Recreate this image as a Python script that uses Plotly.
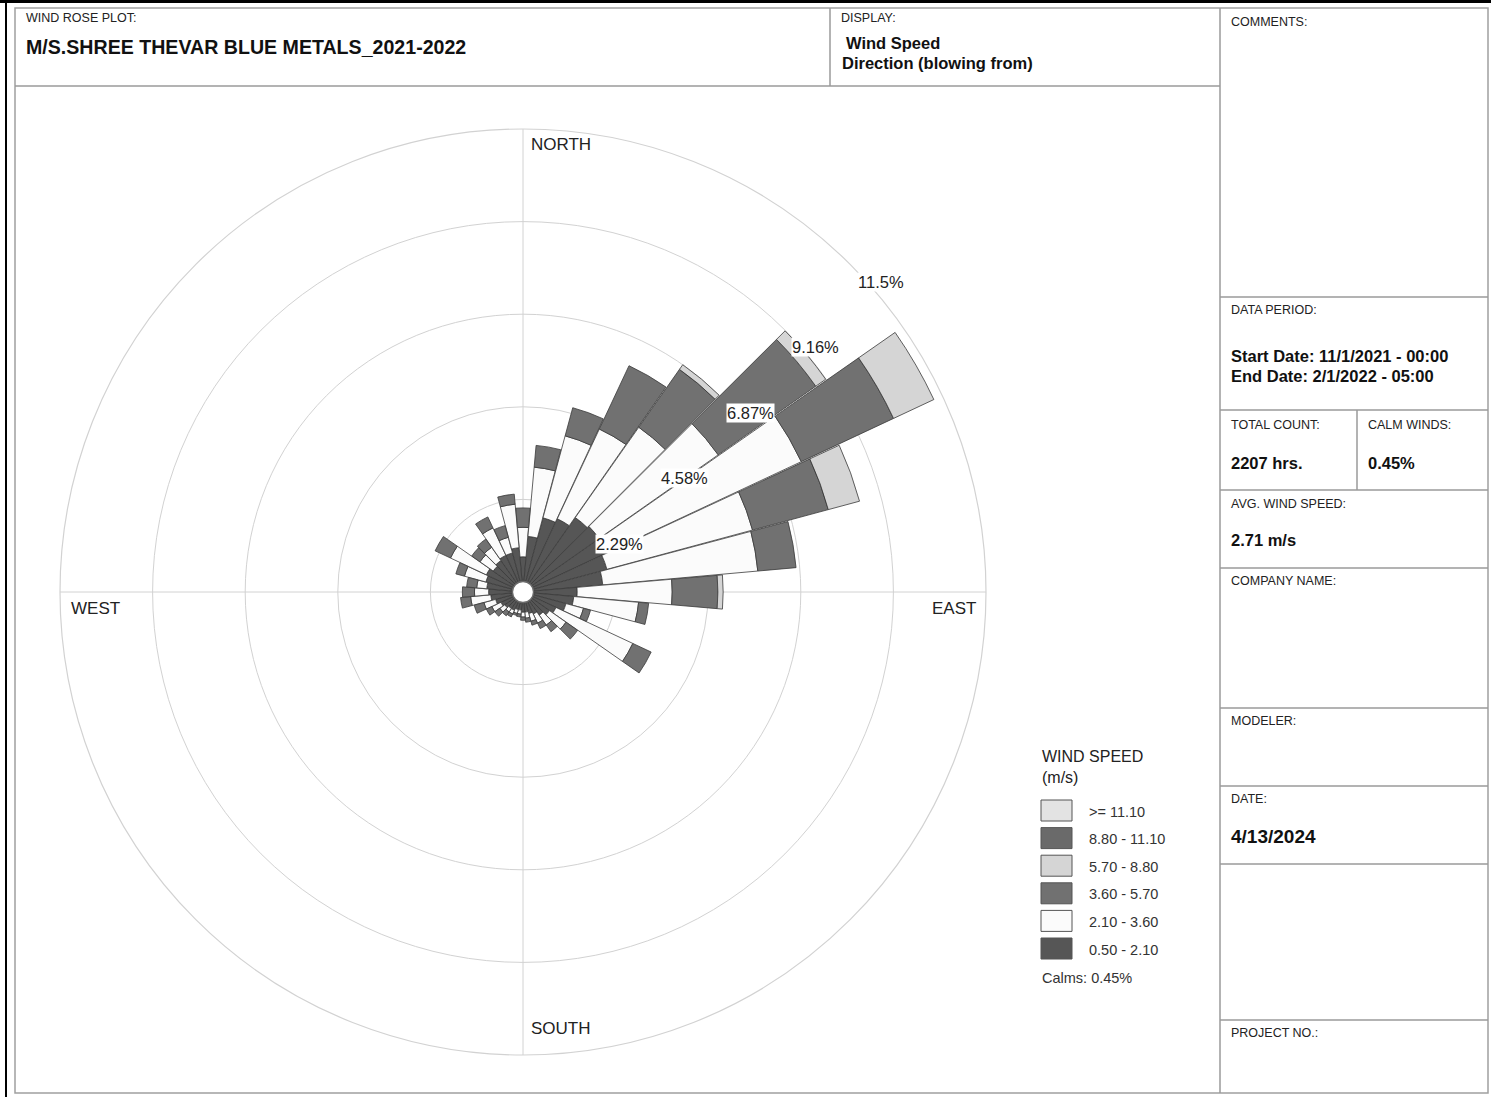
import math
import plotly.graph_objects as go

W, H = 1491, 1097
FONT = "Liberation Sans"

# ---------------- data ----------------
directions = list(range(0, 360, 10))  # direction blowing from, degrees

speed_bins = ["0.50 - 2.10", "2.10 - 3.60", "3.60 - 5.70", "5.70 - 8.80", "8.80 - 11.10", ">= 11.10"]
bin_colors = ["#565656", "#fbfbfb", "#717171", "#d5d5d5", "#6a6a6a", "#e3e3e3"]

# frequency (%) of each speed class per direction
freq_050_210 = [0.87, 1.38, 1.90, 2.00, 2.25, 2.30, 2.28, 2.15, 1.98, 1.34, 1.26, 1.10,
                0.90, 0.80, 0.70, 0.60, 0.55, 0.50, 0.50, 0.45, 0.45, 0.50, 0.50, 0.55,
                0.60, 0.70, 0.80, 0.85, 0.90, 0.95, 1.00, 0.90, 0.95, 1.00, 1.00, 1.10]
freq_210_360 = [0.73, 1.72, 2.10, 2.45, 2.73, 3.60, 5.32, 3.73, 3.85, 2.35, 1.61, 0.45,
                2.10, 0.50, 0.30, 0.25, 0.20, 0.15, 0.12, 0.10, 0.10, 0.10, 0.10, 0.15,
                0.25, 0.30, 0.50, 0.35, 0.25, 0.55, 0.98, 0.40, 0.40, 0.75, 0.40, 1.08]
freq_360_570 = [0.48, 0.54, 0.72, 1.73, 1.75, 2.95, 2.52, 1.94, 0.95, 1.13, 0.25, 0.18,
                0.50, 0.35, 0.20, 0.15, 0.10, 0.10, 0.08, 0.07, 0.05, 0.08, 0.12, 0.15,
                0.15, 0.25, 0.25, 0.30, 0.25, 0.22, 0.42, 0.25, 0.25, 0.30, 0.30, 0.25]
freq_570_880 = [0.00, 0.00, 0.00, 0.00, 0.14, 0.30, 1.10, 0.80, 0.00, 0.13, 0.00, 0.00,
                0.00, 0.00, 0.00, 0.00, 0.00, 0.00, 0.00, 0.00, 0.00, 0.00, 0.00, 0.00,
                0.00, 0.00, 0.00, 0.00, 0.00, 0.00, 0.00, 0.00, 0.00, 0.00, 0.00, 0.00]
freq_880_1110 = [0.00, 0.00, 0.00, 0.00, 0.00, 0.00, 0.00, 0.00, 0.00, 0.00, 0.00, 0.00,
                 0.00, 0.00, 0.00, 0.00, 0.00, 0.00, 0.00, 0.00, 0.00, 0.00, 0.00, 0.00,
                 0.00, 0.00, 0.00, 0.00, 0.00, 0.00, 0.00, 0.00, 0.00, 0.00, 0.00, 0.00]
freq_ge_1110 = [0.00, 0.00, 0.00, 0.00, 0.00, 0.00, 0.00, 0.00, 0.00, 0.00, 0.00, 0.00,
                0.00, 0.00, 0.00, 0.00, 0.00, 0.00, 0.00, 0.00, 0.00, 0.00, 0.00, 0.00,
                0.00, 0.00, 0.00, 0.00, 0.00, 0.00, 0.00, 0.00, 0.00, 0.00, 0.00, 0.00]

speed_series = [freq_050_210, freq_210_360, freq_360_570, freq_570_880, freq_880_1110, freq_ge_1110]

ring_values = [2.29, 4.58, 6.87, 9.16, 11.45]
ring_labels = ["2.29%", "4.58%", "6.87%", "9.16%", "11.5%"]
calm_pct = 0.45

title_text = "M/S.SHREE THEVAR BLUE METALS_2021-2022"
start_date = "Start Date: 11/1/2021 - 00:00"
end_date = "End Date: 2/1/2022 - 05:00"
total_count = "2207 hrs."
avg_speed = "2.71 m/s"
plot_date = "4/13/2024"

# ---------------- geometry helpers ----------------
CX, CY, RAD = 523, 592, 463       # rose centre and outer radius (px)
R_MAX = ring_values[-1]


def px(x):
    return x / W


def py(y):
    return 1 - y / H


def polar_to_px(r, bearing):
    d = r / R_MAX * RAD
    a = math.radians(bearing)
    return CX + d * math.sin(a), CY - d * math.cos(a)


fig = go.Figure()

for name, color, vals in zip(speed_bins, bin_colors, speed_series):
    fig.add_trace(go.Barpolar(
        r=[v if v > 0 else None for v in vals],
        theta=directions,
        width=9.8,
        name=name,
        marker=dict(color=color, line=dict(color="#3a3a3a", width=0.8)),
        showlegend=False,
        hoverinfo="skip",
    ))

# calm circle in the centre
fig.add_trace(go.Scatterpolar(
    r=[0], theta=[0], mode="markers",
    marker=dict(size=21, color="white", line=dict(color="#6a6a6a", width=1.3)),
    showlegend=False, hoverinfo="skip",
))

fig.update_layout(
    width=W, height=H,
    margin=dict(l=0, r=0, t=0, b=0),
    paper_bgcolor="white",
    plot_bgcolor="white",
    font=dict(family=FONT, color="#111"),
    polar=dict(
        domain=dict(x=[px(CX - RAD), px(CX + RAD)], y=[py(CY + RAD), py(CY - RAD)]),
        bgcolor="white",
        bargap=0,
        barmode="stack",
        radialaxis=dict(range=[0, R_MAX], tickvals=ring_values, showticklabels=False,
                        ticks="", showline=False, gridcolor="#d2d2d2", gridwidth=1.2),
        angularaxis=dict(rotation=90, direction="clockwise", tickmode="array",
                         tickvals=[0, 90, 180, 270], showticklabels=False, ticks="",
                         showline=True, linecolor="#d2d2d2", linewidth=1.2,
                         gridcolor="#d2d2d2", gridwidth=1.2),
    ),
)

shapes = []
annotations = []


def line(x0, y0, x1, y1, color="#9a9a9a", width=1.5):
    shapes.append(dict(type="line", xref="paper", yref="paper",
                       x0=px(x0), y0=py(y0), x1=px(x1), y1=py(y1),
                       line=dict(color=color, width=width)))


def text(x, y, s, size, bold=False, anchor="left", color="#111", bg=None):
    annotations.append(dict(
        xref="paper", yref="paper", x=px(x), y=py(y),
        text=f"<b>{s}</b>" if bold else s, showarrow=False,
        xanchor=anchor, yanchor="middle",
        font=dict(family=FONT, size=size, color=color),
        bgcolor=bg, borderpad=0,
    ))


# page frame
line(0, 1.5, W, 1.5, color="#000", width=3)
line(6, 0, 6, H, color="#000", width=2)
shapes.append(dict(type="rect", xref="paper", yref="paper",
                   x0=px(15), y0=py(8), x1=px(1488), y1=py(1093),
                   line=dict(color="#a0a0a0", width=1.5)))

# header boxes
line(15, 86, 1220, 86)
line(830, 8, 830, 86)
line(1220, 8, 1220, 1093)

# right-hand information panel
for yy in [297, 410, 490, 568, 708, 786, 864, 1020]:
    line(1220, yy, 1488, yy)
line(1357, 410, 1357, 490)

small = 12.5
text(25, 18, "WIND ROSE PLOT:", small, color="#222")
text(25, 47, title_text, 19.6, bold=True)
text(840, 18, "DISPLAY:", small, color="#222")
text(845, 43, "Wind Speed", 16.5, bold=True)
text(841, 63, "Direction (blowing from)", 16.5, bold=True)

text(1230, 22, "COMMENTS:", small, color="#222")
text(1230, 310, "DATA PERIOD:", small, color="#222")
text(1230, 356, start_date, 16.5, bold=True)
text(1230, 376, end_date, 16.5, bold=True)
text(1230, 425, "TOTAL COUNT:", small, color="#222")
text(1367, 425, "CALM WINDS:", small, color="#222")
text(1230, 463, total_count, 16.5, bold=True)
text(1367, 463, f"{calm_pct:.2f}%", 16.5, bold=True)
text(1230, 504, "AVG. WIND SPEED:", small, color="#222")
text(1230, 540, avg_speed, 16.5, bold=True)
text(1230, 581, "COMPANY NAME:", small, color="#222")
text(1230, 721, "MODELER:", small, color="#222")
text(1230, 799, "DATE:", small, color="#222")
text(1230, 836, plot_date, 19, bold=True)
text(1230, 1033, "PROJECT NO.:", small, color="#222")

# compass labels
text(561, 145, "NORTH", 17, anchor="center", color="#222")
text(561, 1028, "SOUTH", 17, anchor="center", color="#222")
text(95, 608, "WEST", 17, anchor="center", color="#222")
text(954, 608, "EAST", 17, anchor="center", color="#222")

# ring labels along the 45 degree bearing
for v, lab in zip(ring_values, ring_labels):
    x, y = polar_to_px(v, 45)
    text(x + 31, y + 17, lab, 16.5, anchor="center", color="#222", bg="white")

# legend
text(1041, 756, "WIND SPEED", 16, color="#222")
text(1041, 777, "(m/s)", 16, color="#222")
sw_x0, sw_x1, sw_top, sw_h, sw_step = 1041, 1072, 800, 21, 27.6
for i, (name, color) in enumerate(zip(speed_bins[::-1], bin_colors[::-1])):
    y0 = sw_top + i * sw_step
    shapes.append(dict(type="rect", xref="paper", yref="paper",
                       x0=px(sw_x0), x1=px(sw_x1), y0=py(y0), y1=py(y0 + sw_h),
                       fillcolor=color, line=dict(color="#555", width=1)))
    text(1088, y0 + sw_h / 2 + 1, name, 14.5, color="#333")
text(1041, 978, f"Calms: {calm_pct:.2f}%", 14.5, color="#333")

fig.update_layout(shapes=shapes, annotations=annotations)
fig.write_html("out.html")
